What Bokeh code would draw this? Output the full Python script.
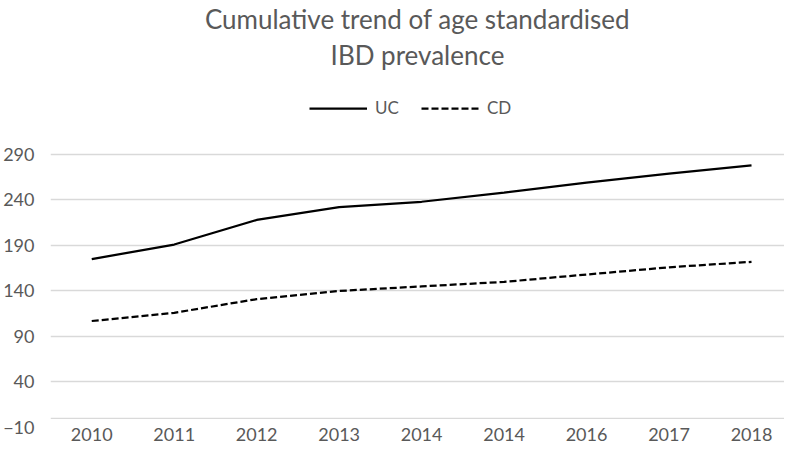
from bokeh.plotting import figure
from bokeh.models import Legend, LegendItem, Title, FixedTicker, Span, Range1d, ColumnDataSource
from bokeh.embed import file_html
from bokeh.resources import INLINE

years = ["2010", "2011", "2012", "2013", "2014", "2014", "2016", "2017", "2018"]
uc = [175, 191, 218, 232, 238, 248, 259, 269, 278]
cd = [107, 116, 131, 140, 145, 150, 158, 166, 172]
y_ticks = [-10, 40, 90, 140, 190, 240, 290]

FONT = "Lato"
GREY = "#595959"

idx = list(range(len(years)))
src = ColumnDataSource(dict(x=idx, uc=uc, cd=cd))

# headroom above the top gridline holds the legend
p = figure(width=784, height=443, output_backend="svg", toolbar_location=None,
           x_range=Range1d(-0.5, len(years) - 0.6), y_range=Range1d(-10, 380),
           min_border_left=42, min_border_right=0, min_border_bottom=0, min_border_top=0)
p.title.text = "Cumulative trend of age standardised"
p.title.align = "center"
p.title.text_font = FONT
p.title.text_font_size = "26px"
p.title.text_color = GREY
p.title.text_font_style = "normal"
p.title.standoff = 0

p.outline_line_color = None
p.background_fill_color = "white"
p.border_fill_color = "white"

p.xgrid.grid_line_color = None
p.ygrid.grid_line_color = "#d9d9d9"
p.ygrid.grid_line_width = 1.3

p.yaxis.ticker = FixedTicker(ticks=y_ticks)
p.yaxis.axis_line_color = None
p.yaxis.major_tick_line_color = None
p.yaxis.minor_tick_line_color = None
p.yaxis.major_label_standoff = 10
p.yaxis.major_label_text_font = FONT
p.yaxis.major_label_text_font_size = "18px"
p.yaxis.major_label_text_color = GREY

p.xaxis.ticker = FixedTicker(ticks=idx)
p.xaxis.major_label_overrides = {i: y for i, y in enumerate(years)}
p.xaxis.axis_line_color = None
p.xaxis.major_tick_line_color = None
p.xaxis.minor_tick_line_color = None
p.xaxis.major_label_standoff = -6
p.xaxis.major_label_text_font = FONT
p.xaxis.major_label_text_font_size = "18px"
p.xaxis.major_label_text_color = GREY

p.add_layout(Span(location=0, dimension="width", line_color="#d9d9d9", line_width=1.3))

r_uc = p.line("x", "uc", source=src, line_color="black", line_width=2.25)
r_cd = p.line("x", "cd", source=src, line_color="black", line_width=2.25, line_dash="7 3")

legend = Legend(items=[LegendItem(label="UC", renderers=[r_uc]),
                       LegendItem(label="CD", renderers=[r_cd])],
                orientation="horizontal", location=(259, 309),
                glyph_width=58, glyph_height=14, label_standoff=8, spacing=22,
                label_text_font=FONT, label_text_font_size="17px", label_text_color=GREY,
                border_line_color=None, background_fill_alpha=0, margin=0, padding=4)
p.add_layout(legend, "center")
p.add_layout(Title(text="IBD prevalence", align="center", text_font=FONT, standoff=4,
                   text_font_size="26px", text_color=GREY, text_font_style="normal"), "above")

open("out.html", "w").write(file_html(p, INLINE))
